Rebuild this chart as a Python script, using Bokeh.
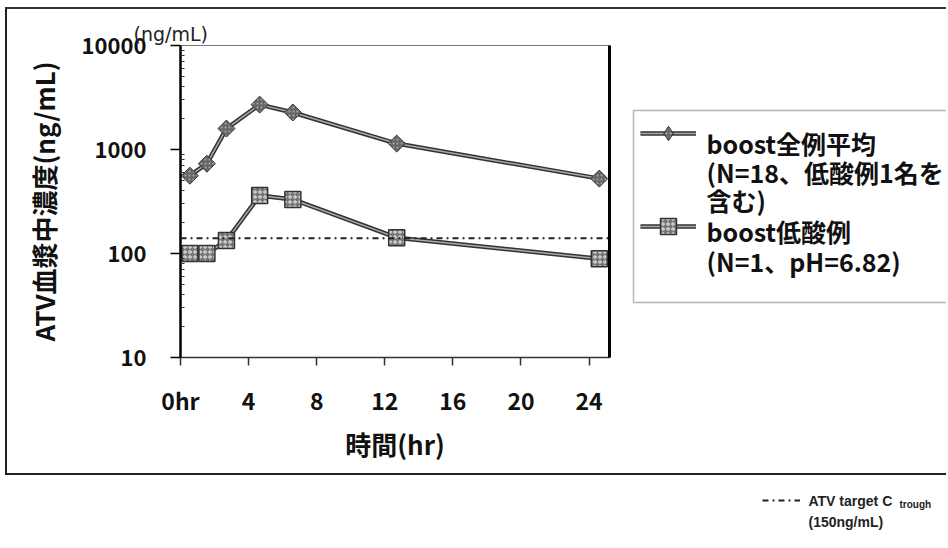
import numpy as np
from bokeh.plotting import figure
from bokeh.layouts import row, column
from bokeh.models import (Range1d, LogAxis, FixedTicker, Legend, LegendItem,
                          Label, BoxAnnotation, Span, Title)
from bokeh.embed import file_html
from bokeh.resources import INLINE

# ---- data ----
hours = [0.55, 1.55, 2.7, 4.65, 6.6, 12.7, 24.6]
conc_all = [560, 730, 1590, 2700, 2270, 1140, 525]     # boost全例平均
conc_low = [100, 100, 133, 361, 331, 142, 89]          # boost低酸例
target_ctrough = 140                                   # ATV target C trough
x_ticks = [0, 4, 8, 12, 16, 20, 24]
x_tick_labels = ["0hr", "4", "8", "12", "16", "20", "24"]
y_ticks = [10, 100, 1000, 10000]
y_tick_labels = ["10", "100", "1000", "10000"]
legend_all_lines = ["boost全例平均", "(N=18、低酸例1名を", "含む)"]
legend_low_lines = ["boost低酸例", "(N=1、pH=6.82)"]
note_lines = ["ATV target  C", "trough", "(150ng/mL)"]

JP = "Noto Sans CJK JP"
DARK = "#111111"
BT, BB = 36, 116          # top / bottom borders shared by the two upper panels

# ---------------- main chart ----------------
p = figure(width=621, height=464, x_range=Range1d(0, 25.2), y_range=Range1d(10, 10000),
           y_axis_type="log", output_backend="svg", toolbar_location=None,
           min_border_left=173, min_border_right=19, min_border_top=BT, min_border_bottom=BB)
p.grid.visible = False
p.background_fill_color = "white"
p.border_fill_color = "white"
p.outline_line_color = "#777777"
p.outline_line_width = 1
p.title = Title(text="(ng/mL)", align="left", offset=-47, standoff=2,
                text_font="DejaVu Sans", text_font_size="19px", text_font_style="normal",
                text_color="#222222")

xa = p.xaxis[0]
xa.ticker = FixedTicker(ticks=x_ticks)
xa.major_label_overrides = {t: l for t, l in zip(x_ticks, x_tick_labels)}
xa.minor_tick_line_color = None
xa.major_tick_in = 0
xa.major_tick_out = 8
xa.axis_line_width = 1.5
xa.axis_line_color = "#333333"
xa.major_tick_line_color = "#333333"
xa.major_tick_line_width = 1.5
xa.major_label_text_font = JP
xa.major_label_text_font_style = "bold"
xa.major_label_text_font_size = "23px"
xa.major_label_text_color = DARK
xa.major_label_standoff = 17
xa.axis_label = "時間(hr)"
xa.axis_label_text_font = JP
xa.axis_label_text_font_style = "bold"
xa.axis_label_text_font_size = "26px"
xa.axis_label_text_color = DARK
xa.axis_label_standoff = 5

ya = p.yaxis[0]
ya.ticker = FixedTicker(ticks=y_ticks,
                        minor_ticks=[m * 10 ** e for e in range(1, 4) for m in range(2, 10)])
ya.major_label_overrides = {t: l for t, l in zip(y_ticks, y_tick_labels)}
ya.major_tick_in = 0
ya.major_tick_out = 10
ya.minor_tick_in = 4
ya.minor_tick_out = 0
ya.axis_line_width = 2.5
ya.axis_line_color = "black"
ya.major_tick_line_color = "black"
ya.major_tick_line_width = 1.5
ya.minor_tick_line_color = "#333333"
ya.major_label_text_font = JP
ya.major_label_text_font_style = "bold"
ya.major_label_text_font_size = "22px"
ya.major_label_text_color = DARK
ya.major_label_standoff = 24
ya.axis_label = "ATV血漿中濃度(ng/mL)"
ya.axis_label_text_font = JP
ya.axis_label_text_font_style = "bold"
ya.axis_label_text_font_size = "26px"
ya.axis_label_text_color = DARK
ya.axis_label_standoff = 17

right_axis = LogAxis(ticker=FixedTicker(ticks=[]), major_label_text_font_size="0px",
                     major_tick_line_color=None, minor_tick_line_color=None,
                     major_tick_out=0, major_tick_in=0, major_label_standoff=0,
                     axis_line_width=3, axis_line_color="black")
p.add_layout(right_axis, "right")

DASH = "6 4 2 4"
p.add_layout(Span(location=target_ctrough, dimension="width", line_color="#222222",
                  line_width=2, line_dash=DASH))

LINE_OUT = dict(line_color="#333333", line_width=4.5)
LINE_IN = dict(line_color="#aaaaaa", line_width=1.5)
DIAMOND = dict(marker="square", angle=np.pi / 4, fill_color="#666666", line_color="#333333",
               line_width=1, hatch_pattern=".", hatch_color="#aaaaaa", hatch_scale=4)
SQUARE = dict(marker="square", fill_color="#777777", line_color="#333333", line_width=1.5,
              hatch_pattern="o", hatch_color="#eeeeee", hatch_scale=5)

p.line(hours, conc_all, **LINE_OUT)
p.line(hours, conc_all, **LINE_IN)
p.scatter(hours, conc_all, size=12, **DIAMOND)
p.line(hours, conc_low, **LINE_OUT)
p.line(hours, conc_low, **LINE_IN)
p.scatter(hours, conc_low, size=16, **SQUARE)


def glyph_legend(renderers, gw, gh, vx, vy):
    return Legend(items=[LegendItem(label=" ", renderers=renderers)], location=(vx, vy),
                  glyph_width=gw, glyph_height=gh, label_width=0, label_height=0,
                  label_standoff=0, padding=0, margin=0, spacing=0,
                  label_text_font_size="1px", border_line_color=None,
                  background_fill_alpha=0)


# ---------------- legend panel (data units = page pixels) ----------------
LX0, LW = 628, 318
lf = figure(width=LW, height=464, x_range=Range1d(LX0, LX0 + LW), y_range=Range1d(357, 45),
            x_axis_type=None, y_axis_type=None, output_backend="svg", toolbar_location=None,
            min_border_left=0, min_border_right=0, min_border_top=BT, min_border_bottom=BB)
lf.grid.visible = False
lf.outline_line_color = None
lf.background_fill_color = "white"
lf.border_fill_color = "white"
lf.add_layout(BoxAnnotation(left=633, right=1100, top=110, bottom=302, fill_color=None,
                            line_color=DARK, line_width=1.5))

# legend sample renderers: the real series, lying outside this panel's ranges
LEG_DIAMOND = dict(DIAMOND, marker="diamond", angle=0)
ra = [lf.line(hours, conc_all, **LINE_OUT), lf.line(hours, conc_all, **LINE_IN),
      lf.scatter(hours, conc_all, **LEG_DIAMOND)]
rl = [lf.line(hours, conc_low, **LINE_OUT), lf.line(hours, conc_low, **LINE_IN),
      lf.scatter(hours, conc_low, **SQUARE)]
lf.add_layout(glyph_legend(ra, 56, 36, 640 - LX0, 357 - 115 - 36))
lf.add_layout(glyph_legend(rl, 56, 40, 640 - LX0, 357 - 206 - 40))

LEG_TXT = dict(text_font=JP, text_font_size="25px", text_font_style="bold",
               text_color=DARK, text_baseline="middle", text_align="left")
for txt, yy in zip(legend_all_lines, [142, 171, 199]):
    lf.add_layout(Label(x=706, y=yy, text=txt, **LEG_TXT))
for txt, yy in zip(legend_low_lines, [230, 260]):
    lf.add_layout(Label(x=706, y=yy, text=txt, **LEG_TXT))

# ---------------- note panel (data units = page pixels) ----------------
NY0, NH = 475, 70
nf = figure(width=946, height=NH, x_range=Range1d(0, 946), y_range=Range1d(NY0 + NH, NY0),
            x_axis_type=None, y_axis_type=None, output_backend="svg", toolbar_location=None,
            min_border=0)
nf.grid.visible = False
nf.outline_line_color = None
nf.background_fill_color = "white"
nf.border_fill_color = "white"
rt = nf.line(hours, [target_ctrough] * len(hours), line_color="#222222", line_width=2,
             line_dash=DASH)
nf.add_layout(glyph_legend([rt], 38, 14, 762, NY0 + NH - 493 - 14))
NOTE = dict(text_font="Liberation Sans", text_font_style="bold", text_color="#222222",
            text_baseline="middle", text_align="left")
nf.add_layout(Label(x=808, y=500, text=note_lines[0], text_font_size="14px", **NOTE))
nf.add_layout(Label(x=899, y=504, text=note_lines[1], text_font_size="10px", **NOTE))
nf.add_layout(Label(x=808, y=521, text=note_lines[2], text_font_size="14px", **NOTE))

top = row(p, lf, margin=(7, 0, 0, 5),
          styles={"border-left": "2px solid #222222",
                  "border-top": "2px solid #333333",
                  "border-bottom": "2px solid #222222"})
layout = column(top, nf)

open("out.html", "w").write(file_html(layout, INLINE))
